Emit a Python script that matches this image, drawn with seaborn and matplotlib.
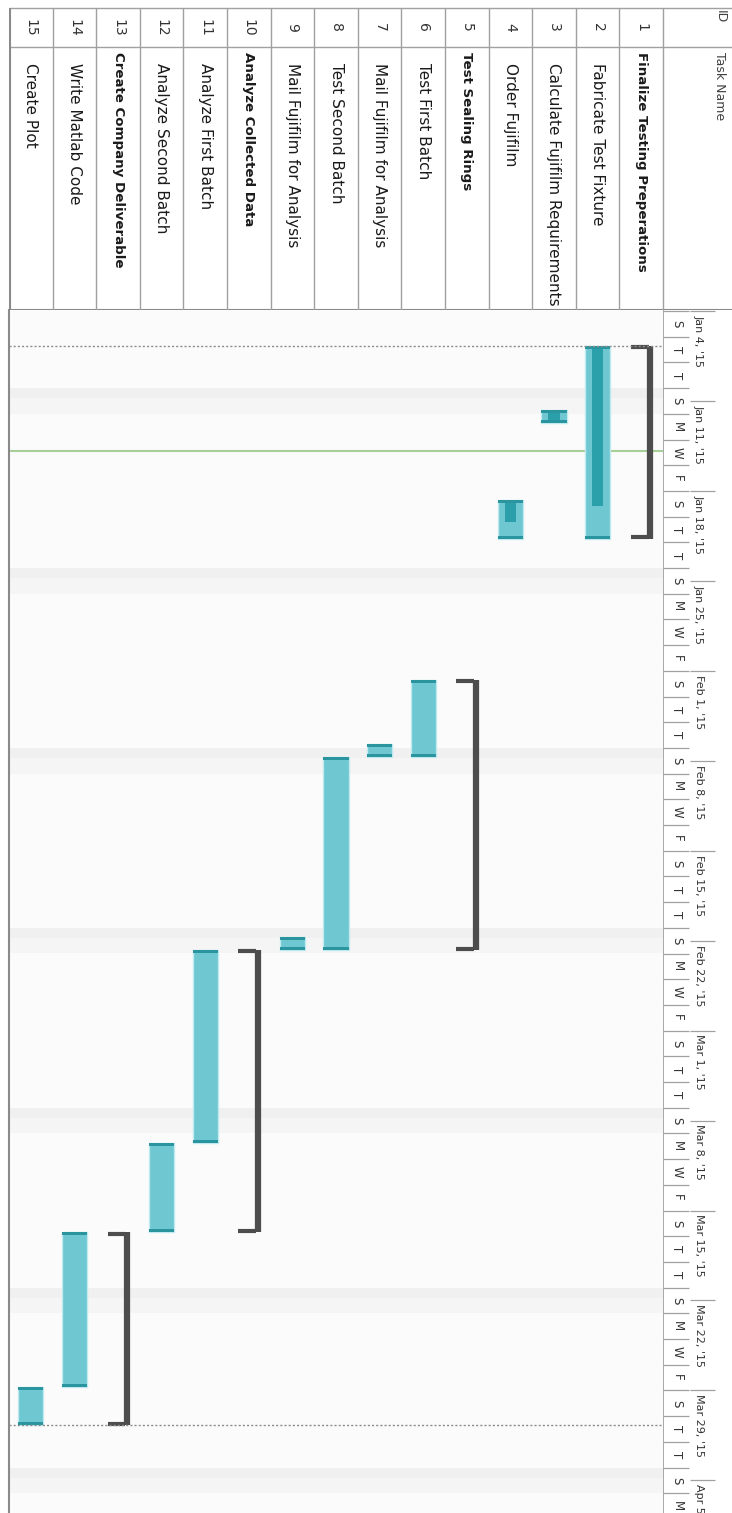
import matplotlib
matplotlib.use("Agg")
import matplotlib.pyplot as plt
import matplotlib.dates as mdates
import seaborn as sns
import pandas as pd
import numpy as np

# ---------------- data ----------------
task_ids = list(range(1, 16))
task_names = [
    "Finalize Testing Preperations",
    "Fabricate Test Fixture",
    "Calculate Fujifilm Requirements",
    "Order Fujifilm",
    "Test Sealing Rings",
    "Test First Batch",
    "Mail Fujifilm for Analysis",
    "Test Second Batch",
    "Mail Fujifilm for Analysis",
    "Analyze Collected Data",
    "Analyze First Batch",
    "Analyze Second Batch",
    "Create Company Deliverable",
    "Write Matlab Code",
    "Create Plot",
]
is_summary = [True, False, False, False, True, False, False, False, False,
              True, False, False, True, False, False]
starts = [
    "2015-01-06 17:00", "2015-01-06 17:00", "2015-01-11 17:00", "2015-01-18 17:00",
    "2015-02-01 17:00", "2015-02-01 17:00", "2015-02-06 17:00", "2015-02-07 17:00",
    "2015-02-21 17:00", "2015-02-22 17:00", "2015-02-22 17:00", "2015-03-09 17:00",
    "2015-03-16 17:00", "2015-03-16 17:00", "2015-03-28 17:00",
]
finishes = [
    "2015-01-21 17:00", "2015-01-21 17:00", "2015-01-12 17:00", "2015-01-21 17:00",
    "2015-02-22 17:00", "2015-02-07 17:00", "2015-02-07 17:00", "2015-02-22 17:00",
    "2015-02-22 17:00", "2015-03-16 17:00", "2015-03-09 17:00", "2015-03-16 17:00",
    "2015-03-31 17:00", "2015-03-28 17:00", "2015-03-31 17:00",
]
pct_complete = [0, 83, 100, 57, 0, 0, 0, 0, 0, 0, 0, 0, 0, 0, 0]

week_labels = ["Jan 4, '15", "Jan 11, '15", "Jan 18, '15", "Jan 25, '15", "Feb 1, '15",
               "Feb 8, '15", "Feb 15, '15", "Feb 22, '15", "Mar 1, '15", "Mar 8, '15",
               "Mar 15, '15", "Mar 22, '15", "Mar 29, '15", "Apr 5"]
week_dates = ["2015-01-04", "2015-01-11", "2015-01-18", "2015-01-25", "2015-02-01",
              "2015-02-08", "2015-02-15", "2015-02-22", "2015-03-01", "2015-03-08",
              "2015-03-15", "2015-03-22", "2015-03-29", "2015-04-05"]
day_letters = ["S", "T", "T", "S", "M", "W", "F"]
shade_starts = ["2015-01-10", "2015-01-24", "2015-02-07", "2015-02-21",
                "2015-03-07", "2015-03-21", "2015-04-04"]
status_date = "2015-01-14 21:00"
project_start = "2015-01-06 17:00"
project_finish = "2015-03-31 17:00"
view_start = "2015-01-04"

# ---------------- style ----------------
sns.set_theme(style="white")
plt.rcParams["font.family"] = ["DejaVu Sans"]

W, H = 732, 1513
fig = plt.figure(figsize=(W / 100, H / 100), dpi=100)
fig.patch.set_facecolor("white")

X0, X1 = 9, 663          # task area (pixels, left/right)
YT, YS = 8, 310          # table top, table/chart split


def fa(left, top, right, bottom):
    return [left / W, 1 - bottom / H, (right - left) / W, (bottom - top) / H]


df = pd.DataFrame({
    "id": task_ids, "name": task_names, "summary": is_summary,
    "start": pd.to_datetime(starts), "finish": pd.to_datetime(finishes),
    "pct": pct_complete,
})
df["s"] = mdates.date2num(df["start"])
df["f"] = mdates.date2num(df["finish"])
df["dur"] = df["f"] - df["s"]

t0 = mdates.date2num(pd.Timestamp(view_start))
px_per_day = 12.85
top_date = t0 - 1 / px_per_day
bot_date = t0 + (H - 311) / px_per_day

# ---------------- Gantt axes ----------------
ax = fig.add_axes(fa(X0, YS, X1, H))
ax.set_facecolor("#fbfbfb")
ax.set_xlim(15.5, 0.5)
ax.set_ylim(bot_date, top_date)

for sdt in shade_starts:
    s = mdates.date2num(pd.Timestamp(sdt))
    ax.axhspan(s, s + 0.8, color="#f0f0f0", lw=0, zorder=0)
    ax.axhspan(s + 0.8, s + 2, color="#f5f5f5", lw=0, zorder=0)

tasks = df[~df["summary"]]
light = "#6ec7d1"
dark = "#2ba0ab"
ax.bar(tasks["id"], tasks["dur"], bottom=tasks["s"], width=0.58,
       color=light, edgecolor="#bfeaf0", linewidth=1.0, zorder=3)
prog = tasks[tasks["pct"] > 0]
ax.bar(prog["id"], prog["dur"] * prog["pct"] / 100, bottom=prog["s"], width=0.26,
       color=dark, linewidth=0, zorder=4)
cap = 3 / px_per_day
ax.bar(tasks["id"], cap, bottom=tasks["s"], width=0.58, color="#2a959f", lw=0, zorder=5)
ax.bar(tasks["id"], cap, bottom=tasks["f"] - cap, width=0.58, color="#2a959f", lw=0, zorder=5)

summ = df[df["summary"]]
for _, r in summ.iterrows():
    xr = r["id"] - 0.21
    xl = r["id"] + 0.24
    ax.vlines(xr, r["s"], r["f"], color="#4d4d4d", lw=4.5, zorder=5)
    ax.hlines([r["s"] + 1.2 / px_per_day, r["f"] - 1.2 / px_per_day], xl, xr + 0.04,
              color="#4d4d4d", lw=3, zorder=5)

ax.axhline(mdates.date2num(pd.Timestamp(project_start)), color="#8c8c8c",
           lw=1, ls=(0, (1.5, 1.5)), zorder=6)
ax.axhline(mdates.date2num(pd.Timestamp(project_finish)), color="#8c8c8c",
           lw=1, ls=(0, (1.5, 1.5)), zorder=6)
ax.axhline(mdates.date2num(pd.Timestamp(status_date)), color="#a9cf98", lw=1.5, zorder=2)

ax.set_xticks([])
ax.set_yticks([])
for sp in ["top", "right", "bottom"]:
    ax.spines[sp].set_visible(False)
ax.spines["left"].set_color("#8a8a8a")
ax.spines["left"].set_linewidth(1.5)

# ---------------- timescale header ----------------
hx = fig.add_axes(fa(X1, YS, W, H), sharey=ax)
hx.set_facecolor("white")
hx.set_xlim(X1, W)
hx.set_ylim(bot_date, top_date)
hx.set_xticks([])
hx.tick_params(left=False, labelleft=False)
for sp in hx.spines.values():
    sp.set_visible(False)
hx.axvline(X1 + 0.5, color="#9a9a9a", lw=1.2)

k = 0
while t0 + 2 * k < bot_date:
    d = t0 + 2 * k
    hx.hlines(d, X1, 689, color="#a0a0a0", lw=0.9)
    if d + 1.5 < bot_date:
        hx.text(677, d + 1, day_letters[k % 7], rotation=-90, ha="center", va="center",
                fontsize=8.5, color="#333333")
    k += 1
for lab, wd in zip(week_labels, week_dates):
    d = mdates.date2num(pd.Timestamp(wd))
    hx.hlines(d, 690, 715, color="#a0a0a0", lw=0.9)
    hx.text(699, d + 0.3, lab, rotation=-90, ha="center", va="top",
            fontsize=8, color="#333333", clip_on=True)

# ---------------- table ----------------
tx = fig.add_axes(fa(X0, 0, W, YS))
tx.set_xlim(X0, W)
tx.set_ylim(YS, 0)
tx.axis("off")
row_w = (X1 - X0) / 15


def row_center(i):
    return X1 - (i - 0.5) * row_w


tx.hlines([YT, 47], X0, W, color="#a0a0a0", lw=1.0)
tx.hlines(YS - 0.5, X0, W, color="#8a8a8a", lw=1.5)
for k in range(16):
    xx = X1 - k * row_w
    tx.vlines(xx, YT, YS, color="#a0a0a0", lw=1.0)
tx.vlines(X0 + 0.5, YT, YS, color="#8a8a8a", lw=1.5)

tx.text(720, 10, "ID", rotation=-90, ha="center", va="top", fontsize=9, color="#404040")
tx.text(720, 52, "Task Name", rotation=-90, ha="center", va="top", fontsize=9, color="#404040")

for _, r in df.iterrows():
    cx = row_center(r["id"])
    tx.text(cx, 27.5, str(r["id"]), rotation=-90, ha="center", va="center",
            fontsize=10, color="#333333")
    tx.text(cx, 52 if r["summary"] else 63, r["name"], rotation=-90, ha="center", va="top",
            fontsize=9.6 if r["summary"] else 11, color="#1a1a1a",
            fontweight="bold" if r["summary"] else "normal", clip_on=True)

fig.savefig("out.png", dpi=100)
